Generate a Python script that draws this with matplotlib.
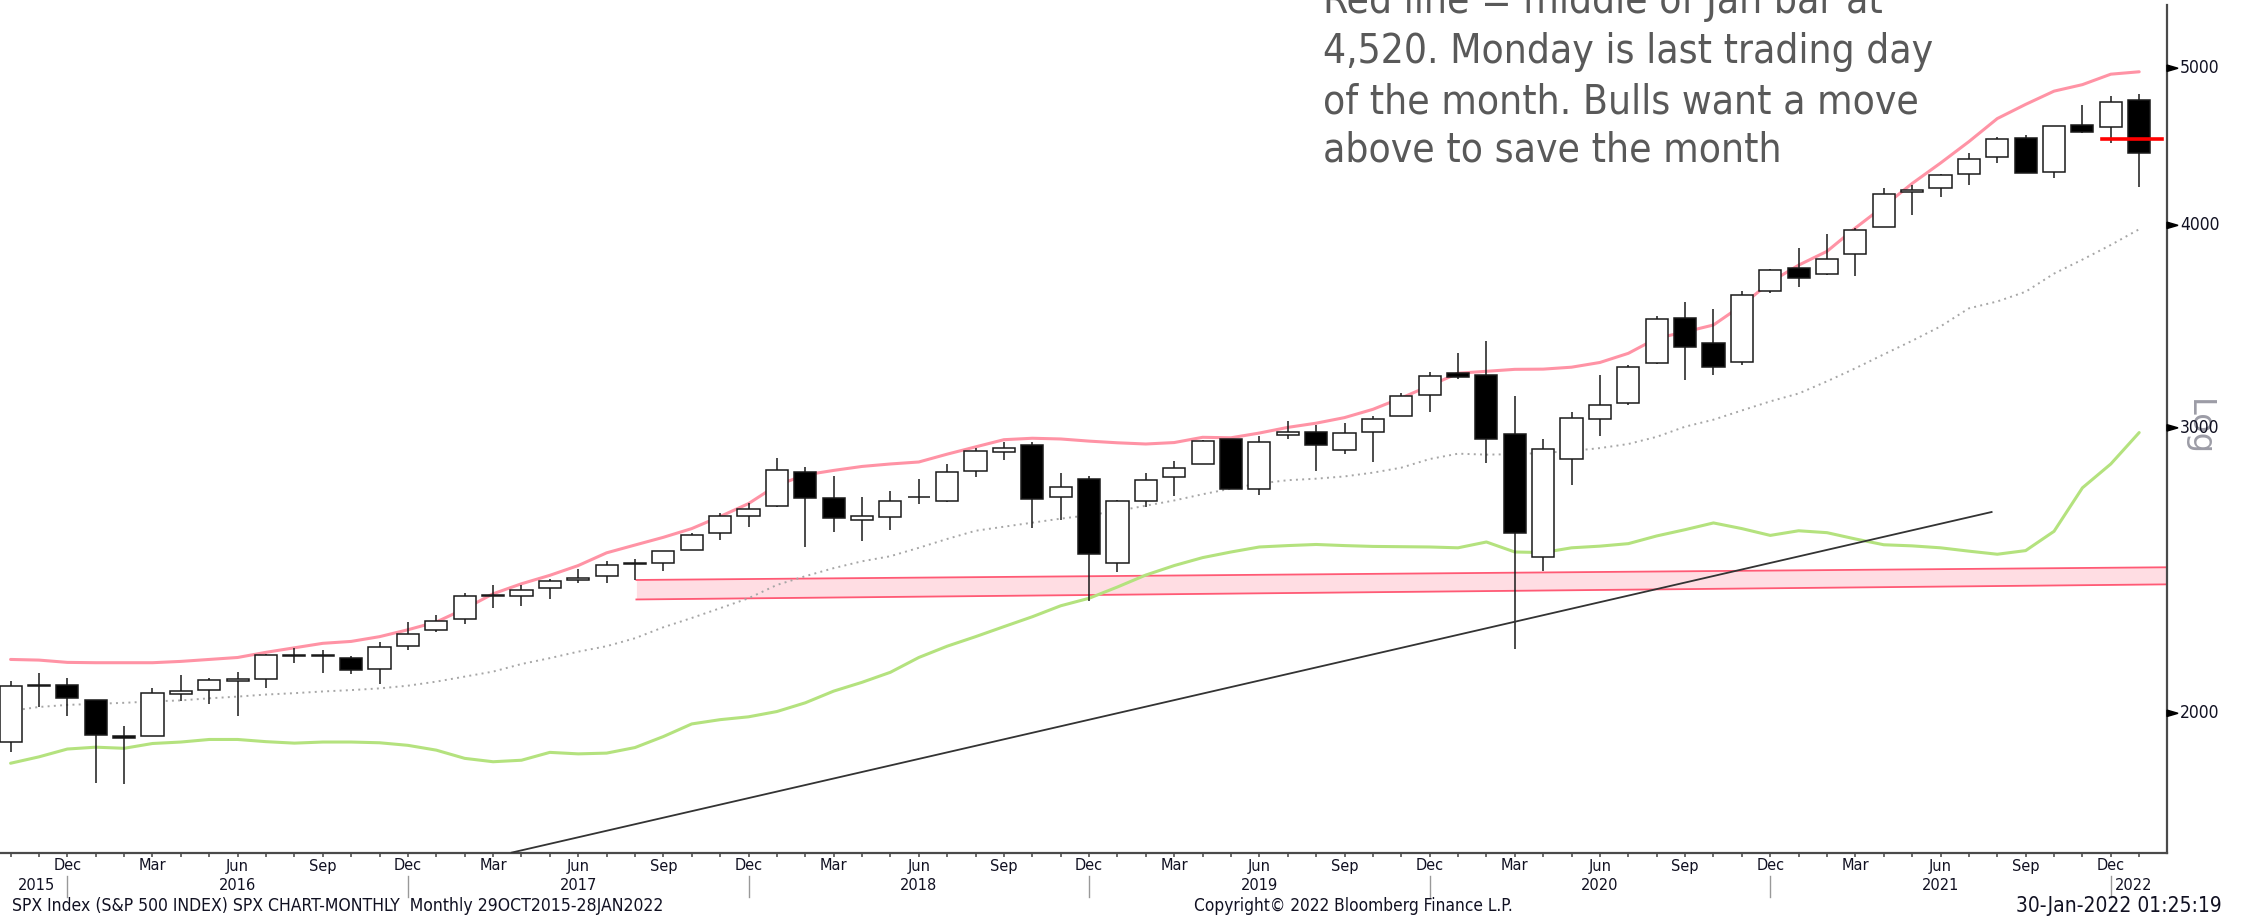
import numpy as np
import pandas as pd
import matplotlib
matplotlib.use("Agg")
import matplotlib.pyplot as plt
import matplotlib.transforms as mtransforms
from matplotlib import font_manager as fm
from matplotlib.patches import Polygon
from matplotlib.ticker import NullLocator

# ---------------- data ----------------
months = pd.date_range("2015-10-01", periods=76, freq="MS")

opens = [1919.65, 2080.76, 2082.93, 2038.20, 1936.94, 1937.09, 2056.62, 2067.17, 2093.94, 2099.34,
         2173.15, 2171.33, 2164.33, 2128.68, 2200.17, 2251.57, 2285.59, 2364.82, 2362.34, 2388.50,
         2415.65, 2431.39, 2477.10, 2474.42, 2521.20, 2583.21, 2645.10, 2683.73, 2816.45, 2715.22,
         2633.45, 2642.96, 2718.70, 2704.95, 2821.17, 2896.96, 2926.29, 2717.58, 2790.50, 2476.96,
         2702.32, 2798.22, 2848.63, 2952.33, 2751.53, 2971.41, 2980.32, 2909.01, 2983.69, 3050.72,
         3143.85, 3244.67, 3235.66, 2974.28, 2498.08, 2869.09, 3038.78, 3105.92, 3288.26, 3507.44,
         3385.87, 3296.20, 3645.87, 3764.61, 3731.17, 3842.51, 3992.78, 4191.98, 4216.52, 4300.73,
         4406.86, 4528.80, 4317.16, 4610.62, 4602.82, 4778.14]
highs = [2094.32, 2116.48, 2104.27, 2038.20, 1962.96, 2072.21, 2111.05, 2103.48, 2120.55, 2177.09,
         2193.81, 2187.87, 2169.60, 2214.10, 2277.53, 2300.99, 2371.54, 2400.98, 2398.16, 2418.71,
         2453.82, 2484.04, 2490.87, 2519.44, 2582.98, 2657.74, 2694.97, 2872.87, 2835.96, 2801.90,
         2717.49, 2742.24, 2791.47, 2848.03, 2916.50, 2940.91, 2939.86, 2815.15, 2800.18, 2708.95,
         2813.49, 2860.31, 2949.52, 2954.13, 2964.15, 3027.98, 3013.59, 3021.99, 3050.10, 3154.26,
         3247.93, 3337.77, 3393.52, 3136.72, 2954.86, 3068.67, 3233.13, 3279.99, 3514.77, 3588.11,
         3549.85, 3645.99, 3760.20, 3870.90, 3950.43, 3983.87, 4218.78, 4238.04, 4302.43, 4429.97,
         4537.36, 4545.85, 4608.08, 4743.83, 4808.93, 4818.62]
lows = [1893.70, 2019.39, 1993.26, 1812.29, 1810.10, 1937.09, 2033.80, 2025.91, 1991.68, 2074.02,
        2147.58, 2119.12, 2114.72, 2083.79, 2187.44, 2245.13, 2271.65, 2322.25, 2328.95, 2352.72,
        2405.70, 2407.70, 2417.35, 2446.55, 2520.40, 2557.45, 2605.52, 2682.36, 2532.69, 2585.89,
        2553.80, 2594.62, 2691.99, 2698.95, 2796.34, 2864.12, 2603.54, 2631.09, 2346.58, 2443.96,
        2681.83, 2722.27, 2848.63, 2750.52, 2728.81, 2952.22, 2822.12, 2891.85, 2855.94, 3050.72,
        3070.33, 3214.64, 2855.84, 2191.86, 2447.49, 2766.64, 2965.66, 3101.17, 3284.53, 3209.45,
        3233.94, 3279.74, 3633.40, 3662.71, 3725.62, 3723.34, 3992.78, 4056.88, 4164.40, 4233.13,
        4367.73, 4305.91, 4278.94, 4560.00, 4495.12, 4222.62]
closes = [2079.36, 2080.41, 2043.94, 1940.24, 1932.23, 2059.74, 2065.30, 2096.95, 2098.86, 2173.60,
          2170.95, 2168.27, 2126.15, 2198.81, 2238.83, 2278.87, 2363.64, 2362.72, 2384.20, 2411.80,
          2423.41, 2470.30, 2471.65, 2519.36, 2575.26, 2647.58, 2673.61, 2823.81, 2713.83, 2640.87,
          2648.05, 2705.27, 2718.37, 2816.29, 2901.52, 2913.98, 2711.74, 2760.17, 2506.85, 2704.10,
          2784.49, 2834.40, 2945.83, 2752.06, 2941.76, 2980.38, 2926.46, 2976.74, 3037.56, 3140.98,
          3230.78, 3225.52, 2954.22, 2584.59, 2912.43, 3044.31, 3100.29, 3271.12, 3500.31, 3363.00,
          3269.96, 3621.63, 3756.07, 3714.24, 3811.15, 3972.89, 4181.17, 4204.11, 4297.50, 4395.26,
          4522.68, 4307.54, 4605.38, 4567.00, 4766.18, 4431.85]

upper_band = [2159, 2157, 2150, 2149, 2149, 2149, 2153, 2159, 2165, 2181,
              2195, 2209, 2215, 2230, 2252, 2277, 2320, 2370, 2404, 2433,
              2467, 2512, 2540, 2568, 2600, 2645, 2694, 2765, 2806, 2824,
              2840, 2850, 2858, 2890, 2920, 2950, 2956, 2953, 2944, 2937,
              2932, 2938, 2960, 2958, 2978, 3002, 3020, 3044, 3080, 3130,
              3185, 3242, 3251, 3260, 3261, 3270, 3292, 3335, 3407, 3438,
              3472, 3570, 3690, 3780, 3855, 3985, 4110, 4245, 4370, 4505,
              4655, 4750, 4840, 4885, 4958, 4975]
middle_band = [2007, 2018, 2024, 2027, 2030, 2034, 2037, 2043, 2048, 2054,
               2058, 2063, 2067, 2072, 2080, 2092, 2107, 2122, 2145, 2163,
               2183, 2200, 2225, 2260, 2290, 2322, 2355, 2400, 2430, 2458,
               2482, 2500, 2530, 2562, 2592, 2607, 2622, 2637, 2650, 2666,
               2686, 2706, 2730, 2752, 2772, 2785, 2791, 2800, 2815, 2835,
               2870, 2892, 2888, 2890, 2895, 2903, 2915, 2932, 2962, 3005,
               3035, 3075, 3115, 3150, 3205, 3265, 3330, 3395, 3465, 3555,
               3590, 3640, 3735, 3810, 3890, 3978]
lower_band = [1863, 1880, 1901, 1906, 1903, 1916, 1920, 1927, 1927, 1921,
              1917, 1920, 1920, 1918, 1911, 1898, 1876, 1867, 1871, 1892,
              1888, 1890, 1905, 1935, 1970, 1982, 1990, 2005, 2030, 2064,
              2090, 2120, 2165, 2200, 2230, 2262, 2294, 2330, 2355, 2393,
              2434, 2467, 2495, 2515, 2533, 2538, 2542, 2538, 2535, 2534,
              2533, 2530, 2551, 2515, 2513, 2530, 2536, 2545, 2573, 2596,
              2621, 2600, 2575, 2592, 2585, 2562, 2541, 2537, 2530, 2518,
              2507, 2520, 2590, 2755, 2850, 2980]

# support zone (x in month index, prices)
zone_x = [22.05, 75.98]
zone_top = [2417, 2461]
zone_bottom = [2351, 2402]
# trend line
trend_x = [17.66, 69.8]
trend_y = [1641, 2662]
# red level
level_x = [73.7, 75.8]
level_y = [4520, 4520]

y_ticks = [2000, 3000, 4000, 5000]
year_labels = ["2015", "2016", "2017", "2018", "2019", "2020", "2021", "2022"]
year_label_x = [0.9, 8, 20, 32, 44, 56, 68, 74.8]
year_sep_x = [2, 14, 26, 38, 50, 62, 74]

footer_left = "SPX Index (S&P 500 INDEX) SPX CHART-MONTHLY  Monthly 29OCT2015-28JAN2022"
footer_mid = "Copyright\u00a9 2022 Bloomberg Finance L.P."
footer_right = "30-Jan-2022 01:25:19"

note_lines = ["Red line = middle of Jan bar at",
              "4,520. Monday is last trading day",
              "of the month. Bulls want a move",
              "above to save the month"]

# ---------------- fonts ----------------
names = {f.name for f in fm.fontManager.ttflist}
cond_files = [f.fname for f in fm.fontManager.ttflist
              if f.name == "DejaVu Sans" and "Condensed" in f.fname
              and "Bold" not in f.fname and "Oblique" not in f.fname]
if "Liberation Sans Narrow" in names:
    lab_fp = fm.FontProperties(family="Liberation Sans Narrow")
elif cond_files:
    lab_fp = fm.FontProperties(fname=cond_files[0])
else:
    lab_fp = fm.FontProperties(family="DejaVu Sans")
note_fp = lab_fp.copy()

W, H = 2244, 918
fig = plt.figure(figsize=(W / 100, H / 100), dpi=100)
renderer = fig.canvas.get_renderer()


def fit_size(text, target_px, fp):
    probe = fig.text(0, 0, text, fontproperties=fp, fontsize=10)
    w = probe.get_window_extent(renderer).width
    probe.remove()
    return 10 * target_px / w


lab_size = fit_size("2016", 37, lab_fp)
tick_size = fit_size("5000", 40, lab_fp)
foot_size_l = fit_size(footer_left, 652, lab_fp)
foot_size_m = fit_size(footer_mid, 320, lab_fp)
foot_size_r = fit_size(footer_right, 205, lab_fp)
note_size = fit_size(note_lines[1], 612, note_fp)

ax_l, ax_r, ax_t, ax_b = 0, 2167, 5, 853
ax = fig.add_axes([ax_l / W, 1 - ax_b / H, (ax_r - ax_l) / W, (ax_b - ax_t) / H])
ax.set_yscale("log")
ax.set_ylim(1640, 5470)
ax.set_xlim(-0.373, 75.98)
ax.yaxis.set_major_locator(NullLocator())
ax.yaxis.set_minor_locator(NullLocator())
ax.tick_params(axis="y", which="both", left=False, right=False, labelleft=False)
x = np.arange(len(months))
ax.set_xticks(x)
ax.tick_params(axis="x", which="major", length=3.2, width=1.1, color="#444444",
               direction="out", labelbottom=False)
ax.xaxis.set_minor_locator(NullLocator())
for s in ["left", "top"]:
    ax.spines[s].set_visible(False)
ax.spines["right"].set_color("#4a4a4a")
ax.spines["right"].set_linewidth(1.6)
ax.spines["bottom"].set_color("#4a4a4a")
ax.spines["bottom"].set_linewidth(1.6)

# zone
ax.fill_between(zone_x, zone_bottom, zone_top, color="#ffdde3", lw=0, zorder=1)
ax.plot(zone_x, zone_top, color="#ff5a75", lw=1.3, zorder=1.5)
ax.plot(zone_x, zone_bottom, color="#ff5a75", lw=1.3, zorder=1.5)

# bands
ax.plot(x, upper_band, color="#ff93a5", lw=2.2, zorder=2, solid_capstyle="round")
ax.plot(x, middle_band, color="#a6a6a6", lw=1.4, ls=(0, (1, 2.2)), zorder=2)
ax.plot(x, lower_band, color="#b4e27e", lw=2.2, zorder=2, solid_capstyle="round")

# candles
o = np.array(opens); c = np.array(closes)
ax.vlines(x, lows, highs, color="#1a1a1a", lw=1.1, zorder=3)
bottoms = np.minimum(o, c)
heights = np.abs(c - o)
faces = ["#000000" if cc < oo else "#ffffff" for oo, cc in zip(o, c)]
ax.bar(x, heights, bottom=bottoms, width=0.78, color=faces, edgecolor="#1a1a1a",
       linewidth=1.1, zorder=4)

# trend and level
ax.plot(trend_x, trend_y, color="#333333", lw=1.3, zorder=5)
ax.plot(level_x, level_y, color="#ff0000", lw=2.6, zorder=6)

# right-hand price ticks
fig.canvas.draw()
tr = mtransforms.blended_transform_factory(ax.transAxes, ax.transData)
for v in y_ticks:
    px, py = tr.transform((1.0, v))
    tri = Polygon([(px, py - 3.2), (px + 11, py), (px, py + 3.2)], closed=True,
                  transform=mtransforms.IdentityTransform(), color="black")
    fig.add_artist(tri)
    ax.text(1 + 13 / 2167, v, str(v), transform=tr, ha="left", va="center",
            fontproperties=lab_fp, fontsize=tick_size, color="#111122", clip_on=False)
ax.text(1 + 31 / 2167, 3000, "Log", transform=tr, rotation=270, ha="center",
        va="center", fontsize=23, color="#9c9ca6", clip_on=False, zorder=0)

# x labels
tx = mtransforms.blended_transform_factory(ax.transData, fig.transFigure)
for i, m in enumerate(months):
    if m.month in (12, 3, 6, 9):
        ax.text(i, 1 - 866 / H, m.strftime("%b"), transform=tx, ha="center", va="center",
                fontproperties=lab_fp, fontsize=lab_size, color="#111122", clip_on=False)
for lbl, xx in zip(year_labels, year_label_x):
    ax.text(xx, 1 - 886 / H, lbl, transform=tx, ha="center", va="center",
            fontproperties=lab_fp, fontsize=lab_size, color="#111122", clip_on=False)
for xx in year_sep_x:
    ax.plot([xx, xx], [1 - 876 / H, 1 - 897 / H], transform=tx, color="#999999",
            lw=1.0, clip_on=False)

# footer
fig.text(12 / W, 1 - 906 / H, footer_left, ha="left", va="center",
         fontproperties=lab_fp, fontsize=foot_size_l, color="#111122")
fig.text(1194 / W, 1 - 906 / H, footer_mid, ha="left", va="center",
         fontproperties=lab_fp, fontsize=foot_size_m, color="#111122")
fig.text(2222 / W, 1 - 906 / H, footer_right, ha="right", va="center",
         fontproperties=lab_fp, fontsize=foot_size_r, color="#111122")

# annotation text
baselines = [13.5, 63, 113, 162]
for line, b in zip(note_lines, baselines):
    fig.text(1323 / W, 1 - b / H, line, ha="left", va="baseline",
             fontproperties=note_fp, fontsize=note_size, color="#595959")

fig.savefig("out.png", dpi=100, facecolor="white")
